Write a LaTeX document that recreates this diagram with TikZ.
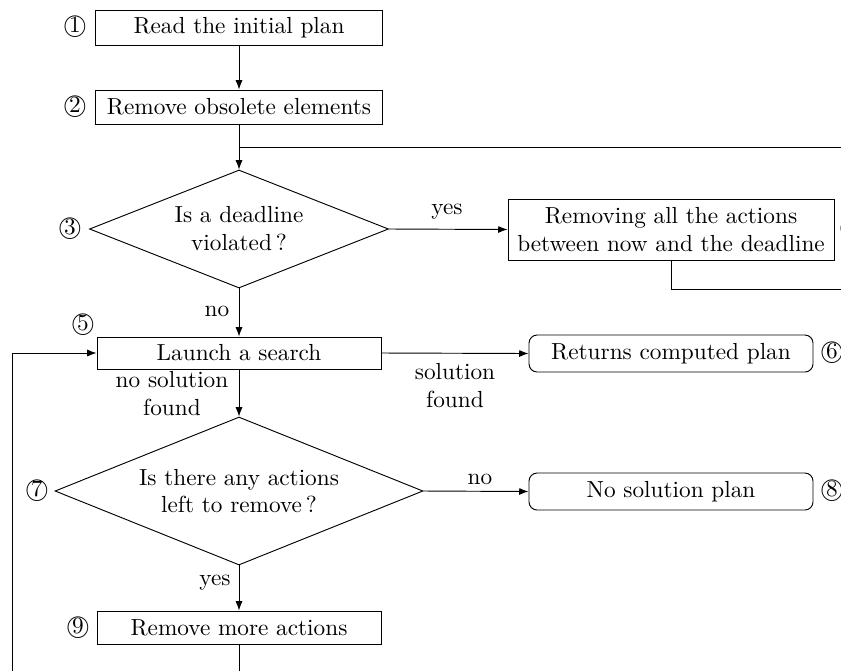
\documentclass[tikz,border=0pt]{standalone}
\usetikzlibrary{shapes.geometric,arrows.meta}
\newdimen\pu
\pu=0.43pt
\begin{document}
\begin{tikzpicture}[x=\pu,y=-\pu,
  every node/.style={font=\normalsize},
  box/.style={draw, rectangle, inner sep=0pt, align=center},
  endbox/.style={box, rounded corners=3.5pt},
  decision/.style={draw, diamond, inner sep=0pt, align=center},
  num/.style={inner sep=0pt},
  lbl/.style={inner sep=0pt, align=center},
  flow/.style={-{Latex[length=4pt,width=3pt]}},
  line/.style={-}]
\useasboundingbox (0,0) rectangle (841,670);
\clip (0,0) rectangle (841,670);

% main column
\node[box, minimum width=287\pu, minimum height=35\pu] (read) at (239,27.5) {Read the initial plan};
\node[box, minimum width=287\pu, minimum height=34\pu] (obs) at (239,107) {Remove obsolete elements};
\node[decision, aspect=2.53, minimum width=299\pu, minimum height=118\pu] (dead) at (239,229) {Is a deadline\\violated\,?};
\node[box, minimum width=326\pu, minimum height=61\pu] (cut) at (671,229.5) {Removing all the actions\\between now and the deadline};
\node[box, minimum width=284\pu, minimum height=32\pu] (search) at (239,353) {Launch a search};
\node[endbox, minimum width=284\pu, minimum height=37\pu] (ret) at (671,353.5) {Returns computed plan};
\node[decision, aspect=2.49, minimum width=368\pu, minimum height=148\pu] (left) at (239,491) {Is there any actions\\left to remove\,?};
\node[endbox, minimum width=284\pu, minimum height=37\pu] (none) at (671,491.5) {No solution plan};
\node[box, minimum width=284\pu, minimum height=33\pu] (more) at (239,627.5) {Remove more actions};

% step numbers
\node[num] (n1) at (75,27) {\textcircled{1}};
\node[num] (n2) at (75,107) {\textcircled{2}};
\node[num] (n3) at (70,229) {\textcircled{3}};
\node[num] (n4) at (851,229) {\textcircled{4}};
\node[num] (n5) at (83,325) {\textcircled{5}};
\node[num] (n6) at (832,353) {\textcircled{6}};
\node[num] (n7) at (37,491) {\textcircled{7}};
\node[num] (n8) at (832,491) {\textcircled{8}};
\node[num] (n9) at (78,628) {\textcircled{9}};

% loose ends of the loops
\coordinate (merge) at (obs.south |- 0,147);
\coordinate (mergeR) at (860,147);
\coordinate (cutR) at (860,289);
\coordinate (moreEnd) at (more.south |- 0,690);
\coordinate (loopB) at (12,690);
\coordinate (loopT) at (12,353);

% connectors
\draw[flow] (read) -- (obs);
\draw[flow] (obs) -- (dead.north);
\draw[line] (merge) -- (mergeR);
\draw[flow] (dead.east) -- (cut.west);
\draw[line] (cut.south) |- (cutR);
\draw[flow] (dead.south) -- (search.north);
\draw[flow] (search.east) -- (ret.west);
\draw[flow] (search.south) -- (left.north);
\draw[flow] (left.east) -- (none.west);
\draw[flow] (left.south) -- (more.north);
\draw[line] (more.south) -- (moreEnd);
\draw[flow] (loopB) -- (loopT) -- (search.west);

% connector labels
\node[lbl] (lyes1) at (447,212) {yes};
\node[lbl] (lno1) at (217,311) {no};
\node[lbl] (lsol) at (455,386) {solution\\found};
\node[lbl] (lnosol) at (172,394) {no solution\\found};
\node[lbl] (lno2) at (480,479) {no};
\node[lbl] (lyes2) at (215,583) {yes};
\end{tikzpicture}
\end{document}
